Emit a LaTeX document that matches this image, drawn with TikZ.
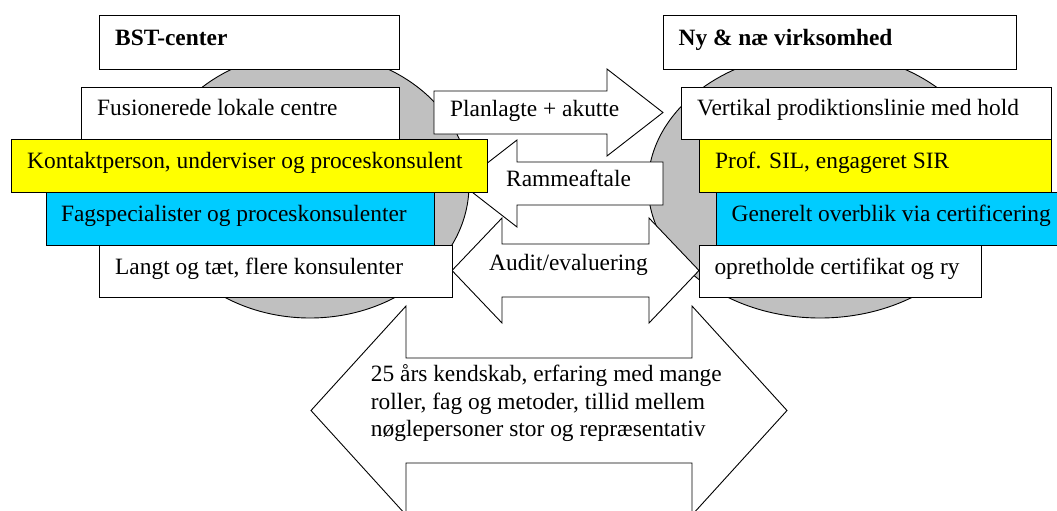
\documentclass[tikz,border=0pt]{standalone}
\usepackage{fontspec}
\setmainfont{Liberation Serif}
\definecolor{shade}{HTML}{C0C0C0}
\definecolor{hiyellow}{HTML}{FFFF00}
\definecolor{hicyan}{HTML}{00CCFF}
\begin{document}
\begin{tikzpicture}[x=1pt,y=-1pt,
  outline/.style={draw=black,line width=0.9pt},
  blob/.style={outline,fill=shade},
  panel/.style={outline,fill=white},
  flow/.style={outline,fill=white,line join=miter},
  txt/.style={anchor=base west,inner sep=0pt,font=\fontsize{23.4}{27.5}\selectfont},
  btxt/.style={txt,font=\fontsize{23.4}{27.5}\selectfont\bfseries}]
\useasboundingbox (0,0) rectangle (1057,511);
\clip (0,0) rectangle (1057,511);

% grey discs behind each party
\filldraw[blob] (310,185) ellipse [x radius=159, y radius=133];
\filldraw[blob] (820,185) ellipse [x radius=172, y radius=133];

% exchange arrows between the two parties
\filldraw[flow] (434,91) -- (607,91) -- (607,69) -- (663,112.5) -- (607,156) -- (607,134) -- (434,134) -- cycle;
\node[txt] (plan) at (450,116.7) {Planlagte + akutte};

\filldraw[flow] (663,162) -- (517,162) -- (517,140) -- (461,183.5) -- (517,227) -- (517,205) -- (663,205) -- cycle;
\node[txt] (ramme) at (506,186.7) {Rammeaftale};

\filldraw[flow] (452,270.5) -- (502,218) -- (502,244) -- (649,244) -- (649,218) -- (699,270.5)
  -- (649,323) -- (649,297) -- (502,297) -- (502,323) -- cycle;
\node[txt] (audit) at (489,270) {Audit/evaluering};

\filldraw[flow] (311,410.5) -- (406,306) -- (406,358) -- (692,358) -- (692,306) -- (787,410.5)
  -- (692,515) -- (692,463) -- (406,463) -- (406,515) -- cycle;
% the node's base is the baseline of its last line
\node[txt,align=left] (base) at (370.7,436.7)
  {25 års kendskab, erfaring med mange\\roller, fag og metoder, tillid mellem\\nøglepersoner stor og repræsentativ};

% left column: BST-center
\draw[panel] (99,15.5) rectangle (399,69.5);
\node[btxt] (bst) at (115,45.7) {BST-center};
\draw[panel] (81,87) rectangle (399,139);
\node[txt] (fus) at (97,115.7) {Fusionerede lokale centre};
\filldraw[outline,fill=hiyellow] (11,139.5) rectangle (487,192);
\node[txt] (kon) at (27,168) {Kontaktperson, underviser og proceskonsulent};
\filldraw[outline,fill=hicyan] (46,192) rectangle (434,245);
\node[txt] (fag) at (60.8,221) {Fagspecialister og proceskonsulenter};
\draw[panel] (99,245) rectangle (452,297.5);
\node[txt] (lan) at (115,274.3) {Langt og tæt, flere konsulenter};

% right column: the company
\draw[panel] (663,15.5) rectangle (1016,69.5);
\node[btxt] (ny) at (678.4,45.7) {Ny \& næ virksomhed};
\draw[panel] (681.5,87) rectangle (1051,139);
\node[txt] (ver) at (697,115.7) {Vertikal prodiktionslinie med hold};
\filldraw[outline,fill=hiyellow] (699,139.5) rectangle (1051,192);
\node[txt] (sil) at (715,168) {Prof. SIL, engageret SIR};
\filldraw[outline,fill=hicyan] (716,192) rectangle (1075,245);
\node[txt] (gen) at (731.5,221) {Generelt overblik via certificering};
\draw[panel] (699,245) rectangle (981,297.5);
\node[txt] (opr) at (714.3,274.3) {opretholde certifikat og ry};
\end{tikzpicture}
\end{document}
